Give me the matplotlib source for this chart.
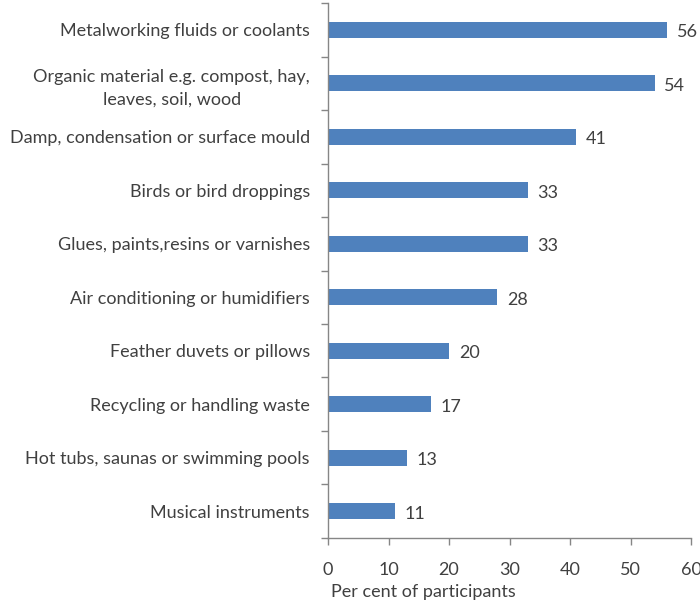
import numpy as np
import matplotlib.pyplot as plt

plt.rcParams['font.family'] = ['Lato', 'DejaVu Sans']

sources = ["Metalworking fluids or coolants",
           "Organic material e.g. compost, hay,\nleaves, soil, wood",
           "Damp, condensation or surface mould",
           "Birds or bird droppings",
           "Glues, paints,resins or varnishes",
           "Air conditioning or humidifiers",
           "Feather duvets or pillows",
           "Recycling or handling waste",
           "Hot tubs, saunas or swimming pools",
           "Musical instruments"]
percent = [56, 54, 41, 33, 33, 28, 20, 17, 13, 11]
xticks = [0, 10, 20, 30, 40, 50, 60]

txt = '#404040'
grey = '#868686'
fs = 13

fig = plt.figure(figsize=(7, 6.07), dpi=100)
ax = fig.add_axes([0.4686, 0.1137, 0.5186, 0.8813])

y = np.arange(len(sources))[::-1]
ax.barh(y, percent, height=0.3, color='#4F81BD')
for yi, v in zip(y, percent):
    ax.text(v + 1.6, yi - 0.05, str(v), va='center', ha='left', fontsize=fs, color=txt)

ax.set_xlim(0, 60)
ax.set_ylim(-0.5, len(sources) - 0.5)
ax.set_xticks(xticks)
ax.set_yticks(y)
ax.set_yticklabels(sources, multialignment='center', linespacing=1.55)
ax.set_yticks(np.arange(len(sources) + 1) - 0.5, minor=True)
ax.tick_params(axis='y', which='major', length=0, pad=13, labelsize=fs, labelcolor=txt)
ax.tick_params(axis='y', which='minor', length=5, color=grey, width=1)
ax.tick_params(axis='x', length=5, color=grey, width=1, pad=12, labelsize=fs, labelcolor=txt)

for s in ['top', 'right']:
    ax.spines[s].set_visible(False)
for s in ['left', 'bottom']:
    ax.spines[s].set_color(grey)
    ax.spines[s].set_linewidth(1)

fig.text(423 / 700, 1 - 592 / 607, "Per cent of participants", ha='center', va='center',
         fontsize=fs, color=txt)

fig.savefig('out.png', dpi=100)
